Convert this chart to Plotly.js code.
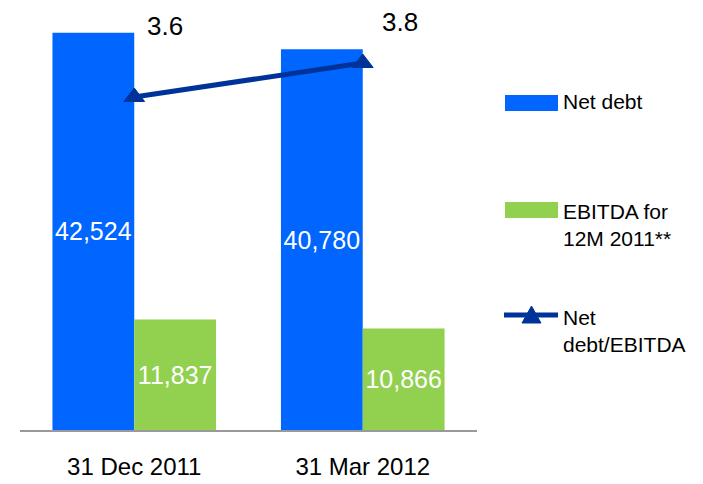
<!DOCTYPE html>
<html>
<head>
<meta charset="utf-8">
<script src="https://cdn.plot.ly/plotly-3.0.1.min.js"></script>
<style>
  html, body { margin: 0; padding: 0; background: #fff; }
  #chart { width: 703px; height: 484px; }
</style>
</head>
<body>
<div id="chart"></div>
<script>
// data
const periods = ['31 Dec 2011', '31 Mar 2012'];
const netDebt = [42524, 40780];
const ebitda = [11837, 10866];
const ratio = [3.6, 3.8];
const seriesNames = ['Net debt', 'EBITDA for<br>12M 2011**', 'Net<br>debt/EBITDA'];

// no narrow face installed, so sizes are picked to match the original text widths
const FONT = '"Liberation Sans Narrow", "Arial Narrow", "Liberation Sans", Arial, sans-serif';
const BLUE = '#0066ff';
const GREEN = '#92d050';
const NAVY = '#003399';

// plot area in pixels: x 20..477, y 20..430
const L = 20, R = 477, T = 20, B = 430;
const px = v => (v - L) / (R - L);
const py = v => (B - v) / (B - T);

const fmt = v => v.toLocaleString('en-US');

const data = [
    {
        x: periods, y: netDebt, type: 'bar', name: seriesNames[0],
        marker: { color: BLUE },
        text: netDebt.map(fmt), textposition: 'inside', insidetextanchor: 'middle',
        constraintext: 'none', textangle: 0,
        textfont: { family: FONT, size: 25, color: '#ffffff' },
        hoverinfo: 'x+y'
    },
    {
        x: periods, y: ebitda, type: 'bar', name: seriesNames[1],
        marker: { color: GREEN },
        text: ebitda.map(fmt), textposition: 'inside', insidetextanchor: 'middle',
        constraintext: 'none', textangle: 0,
        textfont: { family: FONT, size: 25, color: '#ffffff' },
        hoverinfo: 'x+y'
    },
    {
        x: periods, y: ratio, type: 'scatter', mode: 'lines+markers', name: seriesNames[2],
        yaxis: 'y2',
        line: { color: NAVY, width: 5 },
        marker: { symbol: 'triangle-up', size: 18, color: NAVY, line: { color: NAVY, width: 1 } },
        cliponaxis: false
    }
];

// value labels for the ratio line (offsets as placed in the original)
const labelShiftX = [31, 37];
const labelShiftY = [71, 41];
const annotations = ratio.map((v, i) => ({
    x: periods[i], y: v, xref: 'x', yref: 'y2',
    text: v.toFixed(1), showarrow: false,
    xshift: labelShiftX[i], yshift: labelShiftY[i],
    font: { family: FONT, size: 26, color: '#000000' }
}));

// hand-drawn legend on the right
const legendText = [
    { text: seriesNames[0], y: 102 },
    { text: seriesNames[1], y: 225 },
    { text: seriesNames[2], y: 331 }
];
legendText.forEach(item => annotations.push({
    x: px(561), y: py(item.y), xref: 'paper', yref: 'paper',
    xanchor: 'left', yanchor: 'middle', align: 'left',
    text: item.text, showarrow: false,
    font: { family: FONT, size: 21, color: '#000000' }
}));

const shapes = [
    { type: 'rect', xref: 'paper', yref: 'paper', x0: px(505), x1: px(558), y0: py(95), y1: py(111),
      fillcolor: BLUE, line: { width: 0 } },
    { type: 'rect', xref: 'paper', yref: 'paper', x0: px(505), x1: px(558), y0: py(202), y1: py(218),
      fillcolor: GREEN, line: { width: 0 } },
    { type: 'line', xref: 'paper', yref: 'paper', x0: px(504), x1: px(558), y0: py(315), y1: py(315),
      line: { color: NAVY, width: 5 } },
    { type: 'path', xref: 'paper', yref: 'paper',
      path: 'M' + px(522) + ',' + py(323) + ' L' + px(541) + ',' + py(323) + ' L' + px(531.5) + ',' + py(306) + ' Z',
      fillcolor: NAVY, line: { color: NAVY, width: 1 } }
];

const layout = {
    width: 703, height: 484,
    margin: { l: L, r: 703 - R, t: T, b: 484 - B, pad: 0 },
    paper_bgcolor: '#ffffff', plot_bgcolor: '#ffffff',
    showlegend: false,
    barmode: 'group', bargap: 0.284, bargroupgap: 0,
    font: { family: FONT, color: '#000000' },
    xaxis: {
        type: 'category', range: [-0.5, 1.5],
        showline: true, linecolor: '#999999', linewidth: 2,
        showgrid: false, zeroline: false, ticks: '',
        ticklabelstandoff: 14,
        tickfont: { family: FONT, size: 24, color: '#000000' }
    },
    yaxis: { range: [0, 43900], visible: false, fixedrange: true },
    yaxis2: { range: [1.641, 4.053], overlaying: 'y', visible: false, fixedrange: true },
    annotations: annotations,
    shapes: shapes
};

Plotly.newPlot('chart', data, layout, { displayModeBar: false, staticPlot: true });
</script>
</body>
</html>
